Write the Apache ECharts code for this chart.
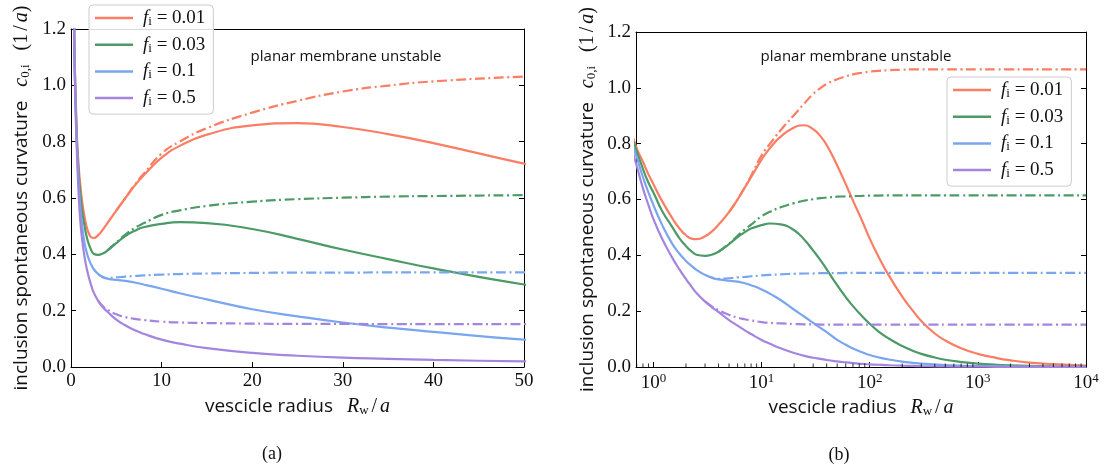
<!DOCTYPE html>
<html>
<head>
<meta charset="utf-8">
<script src="https://cdn.jsdelivr.net/npm/echarts@6/dist/echarts.min.js"></script>
<style>html,body{margin:0;padding:0;background:#fff}#c{width:1107px;height:468px}</style>
</head>
<body>
<div id="c"></div>
<script>
// vesicle radius R_w / a (shared x values for both panels)
const R = [0.3, 0.35, 0.4, 0.5, 0.6, 0.69, 0.8, 0.9, 1, 1.2, 1.5, 1.75, 2, 2.25, 2.5, 3, 3.5, 4, 5, 6, 7, 8, 10, 12, 15, 20, 25, 30, 35, 40, 50, 60, 70, 85, 100, 120, 150, 200, 250, 300, 400, 500, 700, 1000, 1500, 2000, 3000, 5000, 10000];

// solid curves
const red01 = [1.30, 1.20, 1.10, 0.98, 0.87, 0.79, 0.735, 0.69, 0.655, 0.595, 0.532, 0.495, 0.472, 0.46, 0.458, 0.468, 0.487, 0.51, 0.555, 0.60, 0.643, 0.68, 0.743, 0.785, 0.825, 0.858, 0.866, 0.852, 0.827, 0.795, 0.722, 0.655, 0.596, 0.524, 0.46, 0.397, 0.328, 0.252, 0.202, 0.165, 0.12, 0.095, 0.067, 0.047, 0.032, 0.024, 0.016, 0.01, 0.005];
const green03 = [1.30, 1.19, 1.09, 0.96, 0.85, 0.78, 0.71, 0.66, 0.625, 0.56, 0.50, 0.46, 0.433, 0.414, 0.402, 0.398, 0.403, 0.413, 0.44, 0.465, 0.483, 0.496, 0.508, 0.514, 0.511, 0.49, 0.455, 0.417, 0.383, 0.35, 0.293, 0.25, 0.218, 0.182, 0.155, 0.128, 0.102, 0.075, 0.058, 0.047, 0.034, 0.026, 0.018, 0.012, 0.008, 0.006, 0.004, 0.002, 0.001];
const blue1 = [1.30, 1.18, 1.08, 0.94, 0.83, 0.76, 0.68, 0.625, 0.58, 0.51, 0.44, 0.405, 0.38, 0.362, 0.348, 0.33, 0.319, 0.314, 0.309, 0.306, 0.30, 0.293, 0.278, 0.262, 0.24, 0.205, 0.18, 0.158, 0.14, 0.125, 0.097, 0.08, 0.066, 0.053, 0.043, 0.035, 0.027, 0.019, 0.015, 0.012, 0.009, 0.007, 0.005, 0.0035, 0.0023, 0.0018, 0.0012, 0.0007, 0.0004];
const purple5 = [1.30, 1.17, 1.06, 0.92, 0.81, 0.73, 0.64, 0.58, 0.53, 0.46, 0.39, 0.348, 0.315, 0.288, 0.265, 0.235, 0.213, 0.197, 0.168, 0.148, 0.131, 0.118, 0.097, 0.083, 0.067, 0.05, 0.04, 0.033, 0.029, 0.025, 0.02, 0.0165, 0.014, 0.0115, 0.0095, 0.008, 0.0063, 0.0047, 0.0038, 0.003, 0.0024, 0.0019, 0.0014, 0.001, 0.0007, 0.0005, 0.0003, 0.0002, 0.0001];

// dash-dot curves (null where not drawn)
const red01Dash = [null, null, null, null, null, null, null, null, null, null, null, null, null, null, null, null, null, null, 0.555, 0.60, 0.645, 0.685, 0.758, 0.80, 0.848, 0.903, 0.945, 0.978, 0.999, 1.014, 1.031, 1.041, 1.048, 1.054, 1.058, 1.061, 1.063, 1.065, 1.066, 1.066, 1.066, 1.066, 1.066, 1.066, 1.066, 1.066, 1.066, 1.066, 1.066];
const green03Dash = [null, null, null, null, null, null, null, null, null, null, null, null, null, null, null, null, null, 0.413, 0.442, 0.47, 0.493, 0.51, 0.54, 0.556, 0.572, 0.587, 0.596, 0.601, 0.605, 0.607, 0.61, 0.611, 0.612, 0.613, 0.614, 0.614, 0.615, 0.615, 0.615, 0.615, 0.615, 0.615, 0.615, 0.615, 0.615, 0.615, 0.615, 0.615, 0.615];
const blue1Dash = [null, null, null, null, null, null, null, null, null, null, null, null, null, null, null, 0.33, 0.32, 0.316, 0.318, 0.321, 0.323, 0.325, 0.328, 0.33, 0.332, 0.334, 0.335, 0.335, 0.336, 0.336, 0.336, 0.337, 0.337, 0.337, 0.337, 0.337, 0.337, 0.337, 0.337, 0.337, 0.337, 0.337, 0.337, 0.337, 0.337, 0.337, 0.337, 0.337, 0.337];
const purple5Dash = [null, null, null, null, null, null, null, null, null, null, null, null, null, null, null, 0.235, 0.216, 0.204, 0.187, 0.177, 0.171, 0.167, 0.161, 0.158, 0.156, 0.154, 0.153, 0.153, 0.152, 0.152, 0.152, 0.152, 0.152, 0.152, 0.152, 0.152, 0.152, 0.152, 0.152, 0.152, 0.152, 0.152, 0.152, 0.152, 0.152, 0.152, 0.152, 0.152, 0.152];

// labels
const seriesNames = ['0.01', '0.03', '0.1', '0.5'];
const xTicksA = [0, 10, 20, 30, 40, 50];
const logMajor = [1, 10, 100, 1000, 10000];
const logMinor = [0.7, 0.8, 0.9, 2, 3, 4, 5, 6, 7, 8, 9, 20, 30, 40, 50, 60, 70, 80, 90, 200, 300, 400, 500, 600, 700, 800, 900, 2000, 3000, 4000, 5000, 6000, 7000, 8000, 9000];

const colors = ['#fb7d63', '#4c9a66', '#7aa5ef', '#a385e0'];
const solids = [red01, green03, blue1, purple5];
const dashes = [red01Dash, green03Dash, blue1Dash, purple5Dash];

const SERIF = 'Liberation Serif';
const SANS = 'Open Sans';

function pairs(vals) {
  return R.map((x, i) => vals[i] == null ? null : [x, vals[i]]).filter(p => p);
}

const series = [];
[0, 1].forEach(panel => {
  const xi = panel * 2, yi = panel * 2;
  solids.forEach((vals, k) => {
    series.push({
      name: 'f' + seriesNames[k], type: 'line', xAxisIndex: xi, yAxisIndex: yi,
      data: pairs(vals), symbol: 'none', showSymbol: false, smooth: 0.5, clip: true, z: 2,
      lineStyle: { color: colors[k], width: 2.2 }, itemStyle: { color: colors[k] }
    });
  });
  dashes.forEach((vals, k) => {
    series.push({
      name: 'dash' + seriesNames[k], type: 'line', xAxisIndex: xi, yAxisIndex: yi,
      data: pairs(vals), symbol: 'none', showSymbol: false, smooth: 0.5, clip: true, z: 3,
      lineStyle: { color: colors[k], width: 2.2, type: [10, 3.5, 2, 3.5] }, itemStyle: { color: colors[k] }
    });
  });
});
// minor ticks on the log axis
series.push({
  type: 'scatter', xAxisIndex: 2, yAxisIndex: 2, clip: false, silent: true, z: 10,
  data: logMinor.map(v => [v, 0]), symbol: 'rect', symbolSize: [1, 3.5], symbolOffset: [0, -1.75],
  itemStyle: { color: '#000' }
});

const richName = {
  t: { fontFamily: SANS, fontSize: 19, color: '#111', lineHeight: 26 },
  it: { fontFamily: SERIF, fontSize: 20, fontStyle: 'italic', color: '#111', lineHeight: 26 },
  itg: { fontFamily: SERIF, fontSize: 20, fontStyle: 'italic', color: '#111', lineHeight: 26, padding: [0, 0, 0, 14] },
  sub: { fontFamily: SERIF, fontSize: 13, color: '#111', lineHeight: 26, padding: [8, 0, 0, 0] },
  r: { fontFamily: SERIF, fontSize: 20, color: '#111', lineHeight: 26 },
  sl: { fontFamily: SERIF, fontSize: 20, color: '#111', lineHeight: 26, padding: [0, 3, 0, 3] },
  rg: { fontFamily: SERIF, fontSize: 20, color: '#111', lineHeight: 26, padding: [0, 0, 0, 14] }
};
const xName = '{t|vescicle radius}{itg|R}{sub|w}{sl|/}{it|a}';
const yName = '{t|inclusion spontaneous curvature}{itg|c}{sub|0,i}{rg|(1}{sl|/}{it|a}{r|)}';

const tickLabel = { fontFamily: SERIF, fontSize: 19, color: '#111', margin: 5 };
const axisLineS = { show: true, onZero: false, lineStyle: { color: '#000', width: 1 } };
const tickS = { show: true, inside: true, length: 5, lineStyle: { color: '#000', width: 1 } };

function yAxesFor(grid, gap) {
  return [
    { gridIndex: grid, type: 'value', min: 0, max: 1.2, interval: 0.2, position: 'left',
      axisLine: axisLineS, axisTick: tickS, splitLine: { show: false },
      axisLabel: Object.assign({}, tickLabel, { formatter: v => v.toFixed(1) }),
      name: yName, nameLocation: 'middle', nameGap: gap, nameRotate: 90,
      nameTextStyle: { rich: richName } },
    { gridIndex: grid, type: 'value', min: 0, max: 1.2, interval: 0.2, position: 'right',
      axisLine: axisLineS, axisTick: tickS, splitLine: { show: false }, axisLabel: { show: false } }
  ];
}

const supMap = { 0: '0', 1: '1', 2: '2', 3: '3', 4: '4' };

const legendRich = {
  f: { fontFamily: SERIF, fontSize: 19, fontStyle: 'italic', color: '#111', lineHeight: 20, padding: [0, 0, 0, 5] },
  s: { fontFamily: SERIF, fontSize: 13, color: '#111', lineHeight: 20, padding: [7, 0, 0, 0] },
  v: { fontFamily: SERIF, fontSize: 19, color: '#111', lineHeight: 20 }
};
function legendFor(left, top) {
  return {
    data: seriesNames.map(n => 'f' + n), orient: 'vertical', left: left, top: top,
    icon: 'rect', itemWidth: 38, itemHeight: 2.5, itemGap: 6.7, padding: [3, 8, 6, 6],
    backgroundColor: 'rgba(255,255,255,0.85)', borderColor: '#cccccc', borderWidth: 1, borderRadius: 4,
    selectedMode: false,
    formatter: n => '{f|f}{s|i}{v| = ' + n.slice(1) + '}',
    textStyle: { fontFamily: SERIF, fontSize: 19, color: '#111', rich: legendRich }
  };
}

const option = {
  animation: false,
  backgroundColor: '#fff',
  grid: [
    { left: 71, top: 29, width: 453, height: 338 },
    { left: 636, top: 32, width: 450, height: 335 }
  ],
  xAxis: [
    { gridIndex: 0, type: 'value', min: xTicksA[0], max: xTicksA[xTicksA.length - 1], interval: 10, position: 'bottom',
      axisLine: axisLineS, axisTick: tickS, splitLine: { show: false }, axisLabel: tickLabel,
      name: xName, nameLocation: 'middle', nameGap: 26, nameTextStyle: { rich: richName } },
    { gridIndex: 0, type: 'value', min: 0, max: 50, position: 'top',
      axisLine: axisLineS, axisTick: { show: false }, axisLabel: { show: false }, splitLine: { show: false } },
    { gridIndex: 1, type: 'log', logBase: 10, min: 0.69, max: logMajor[logMajor.length - 1], position: 'bottom',
      axisLine: axisLineS, axisTick: tickS, splitLine: { show: false },
      axisLabel: Object.assign({}, tickLabel, {
        formatter: v => {
          const l = Math.log10(v), n = Math.round(l);
          if (Math.abs(l - n) > 0.01) return '';
          return '{b|10}{e|' + supMap[n] + '}';
        },
        rich: {
          b: { fontFamily: SERIF, fontSize: 19, color: '#111' },
          e: { fontFamily: SERIF, fontSize: 13, color: '#111', padding: [0, 0, 9, 0] }
        }
      }),
      name: xName, nameLocation: 'middle', nameGap: 26, nameTextStyle: { rich: richName } },
    { gridIndex: 1, type: 'value', min: 0, max: 1, position: 'top',
      axisLine: axisLineS, axisTick: { show: false }, axisLabel: { show: false }, splitLine: { show: false } }
  ],
  yAxis: [].concat(yAxesFor(0, 36), yAxesFor(1, 35)),
  legend: [legendFor(89, 5), legendFor(947, 77)],
  graphic: [
    { type: 'text', x: 346, y: 57, style: { text: 'planar membrane unstable', fontFamily: SANS, fontSize: 15, fill: '#111', align: 'center', verticalAlign: 'middle' } },
    { type: 'text', x: 856, y: 57, style: { text: 'planar membrane unstable', fontFamily: SANS, fontSize: 15, fill: '#111', align: 'center', verticalAlign: 'middle' } },
    { type: 'text', x: 272, y: 454, style: { text: '(a)', fontFamily: SERIF, fontSize: 18, fill: '#111', align: 'center', verticalAlign: 'middle' } },
    { type: 'text', x: 839, y: 455, style: { text: '(b)', fontFamily: SERIF, fontSize: 18, fill: '#111', align: 'center', verticalAlign: 'middle' } }
  ],
  series: series
};

const chart = echarts.init(document.getElementById('c'), null, { renderer: 'canvas' });
chart.setOption(option);
</script>
</body>
</html>
